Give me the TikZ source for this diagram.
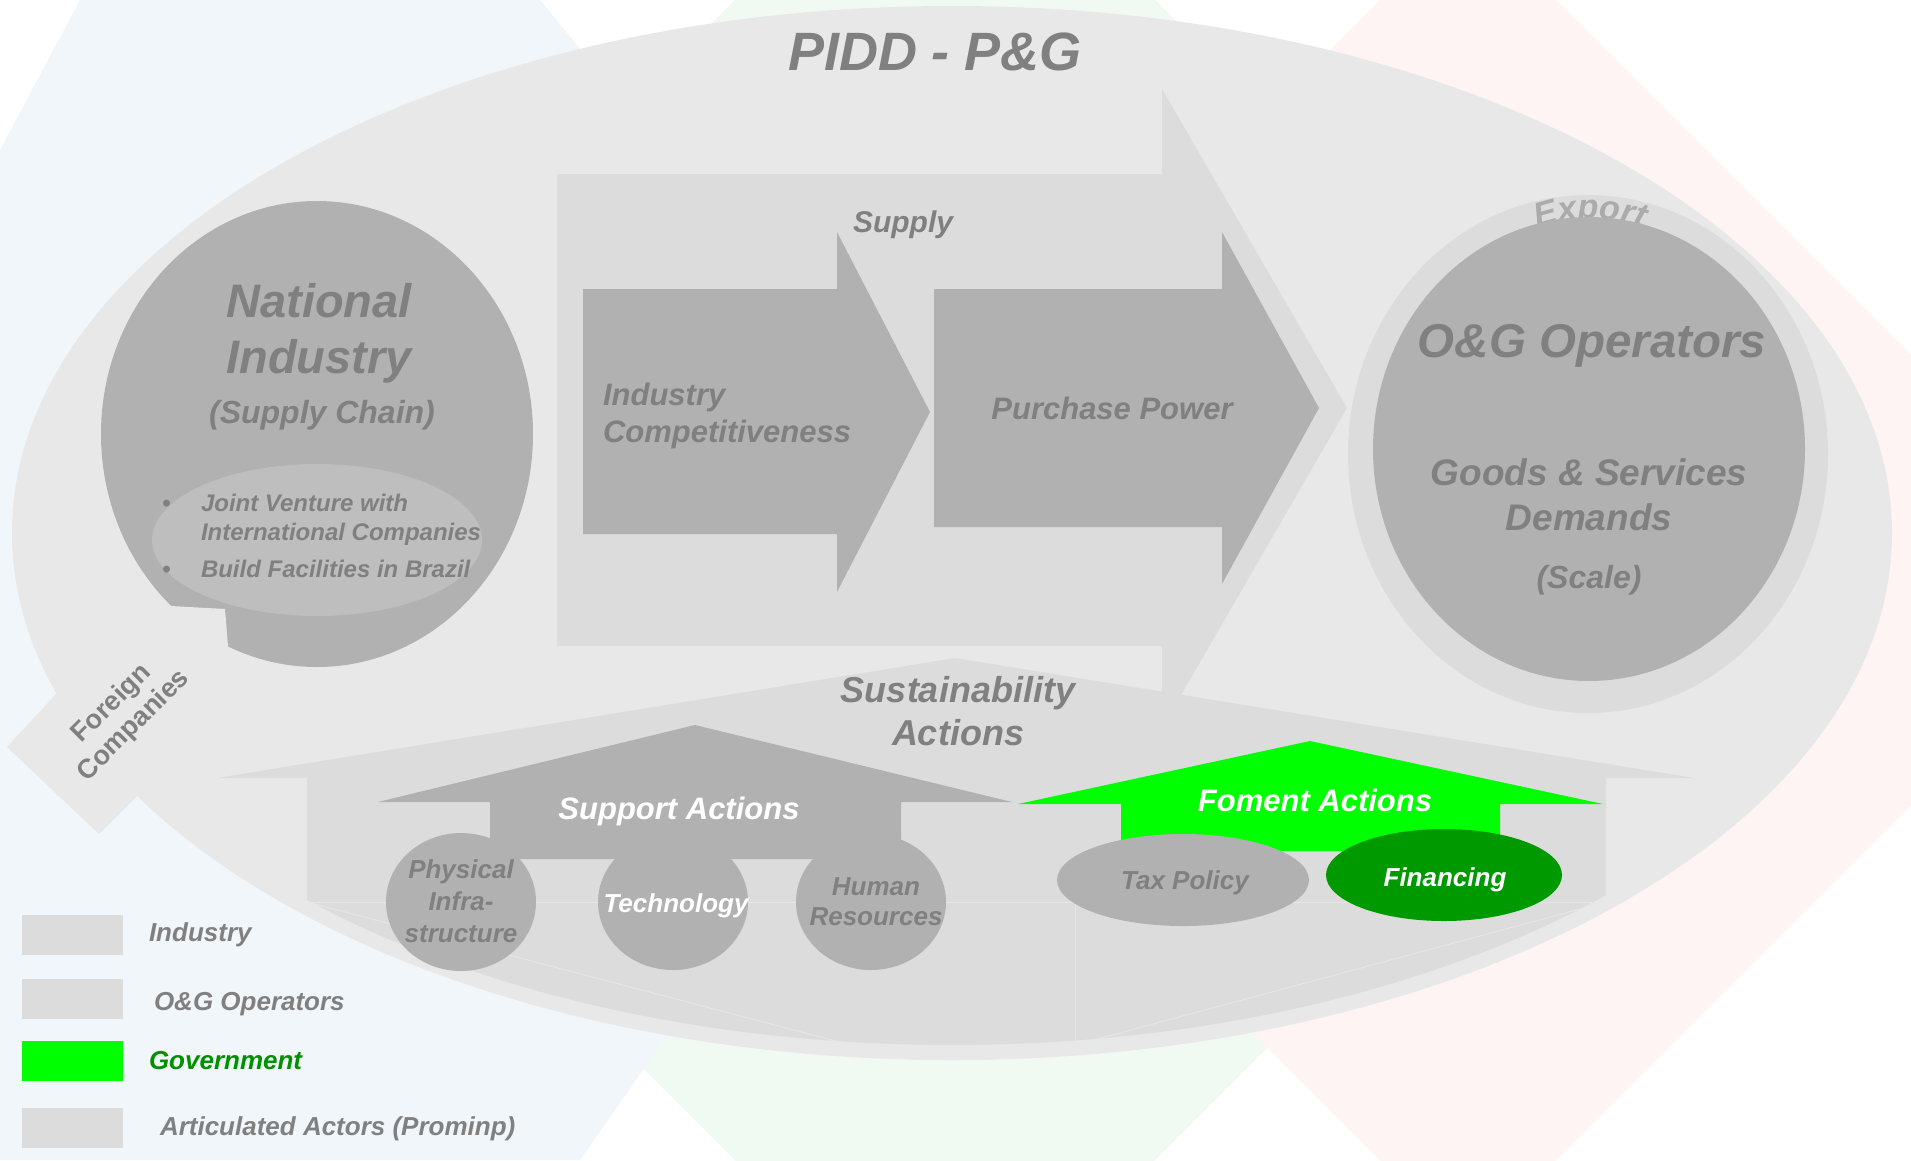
\documentclass[tikz,border=0pt]{standalone}
\usepackage{fontspec}
\setmainfont{Liberation Sans}
\usetikzlibrary{decorations.text}
\definecolor{bigE}{HTML}{E8E8E8}
\definecolor{lightG}{HTML}{DCDCDC}
\definecolor{midG}{HTML}{B1B1B1}
\definecolor{innerG}{HTML}{BEBEBE}
\definecolor{txtG}{HTML}{808080}
\definecolor{brightGreen}{HTML}{00FF00}
\definecolor{darkGreen}{HTML}{009900}
\definecolor{govGreen}{HTML}{009000}
\definecolor{expG}{HTML}{ABABAB}
\definecolor{tintBlue}{HTML}{F1F6FA}
\definecolor{tintGreen}{HTML}{F1F9F3}
\definecolor{tintPink}{HTML}{FEF4F4}
\newcommand\F[2]{\fontsize{#1}{#2}\selectfont\bfseries\itshape}
\newcommand\exportfont{\fontsize{34}{40}\selectfont\bfseries\itshape}
\begin{document}
\begin{tikzpicture}[x=1pt,y=-1pt,
  lbl/.style={inner sep=0pt, outer sep=0pt, text=txtG, anchor=base, font=\F{#1}{#1}},
  wlbl/.style={lbl=#1, text=white},
  llbl/.style={lbl=#1, anchor=base west},
  fclbl/.style={inner sep=0pt, outer sep=0pt, text=txtG, rotate=45, font=\fontsize{27}{32}\selectfont\bfseries},
  bevel/.style={white, opacity=.3, line width=1pt}]
\useasboundingbox (0,0) rectangle (1911,1160);
% background tints
\begin{scope}
\clip (0,0) rectangle (1911,1160);
\fill[white] (0,0) rectangle (1911,1160);
\fill[tintGreen] (945,-210) -- (1735,580) -- (945,1370) -- (155,580) -- cycle;
\fill[tintBlue] (80,0) -- (540,0) -- (1000,560) -- (580,1160) -- (0,1160) -- (0,150) -- cycle;
\fill[tintPink] (1468,-88) -- (2136,580) -- (1468,1248) -- (800,580) -- cycle;
\end{scope}
% foreign companies arrow and big ellipse
\fill[bigE] (57,693) -- (7,747) -- (99,834) -- (137,796) -- (200,700) -- cycle;
\fill[bigE] (952,533) ellipse [x radius=940, y radius=527];
% supply arrow
\fill[lightG] (557,174) -- (1162,174) -- (1162,89) -- (1347,408) -- (1162,728) -- (1162,646) -- (557,646) -- cycle;
% sustainability arrow
\begin{scope}
\clip (952,533) ellipse [x radius=925, y radius=512];
\fill[lightG] (217,778) -- (955,658) -- (1694,778) -- (1606,778) -- (1606,1100) -- (307,1100) -- (307,778) -- cycle;
\draw[bevel] (307,902) -- (851,1045);
\draw[bevel] (307,902) -- (1606,902);
\draw[bevel] (1075,902) -- (1075,1045);
\draw[bevel] (1606,902) -- (1075,1045);
\end{scope}
% national industry
\fill[midG] (317,434) ellipse [x radius=216, y radius=233];
\fill[bigE] (90,600) -- (171,606) -- (225,609) -- (228,646) -- (228,700) -- (90,700) -- cycle;
\fill[innerG] (317,540) ellipse [x radius=165, y radius=76];
\node[lbl=47] (nat1) at (319,317) {National};
\node[lbl=47] (nat2) at (319,373) {Industry};
\node[lbl=32] (nat3) at (322,423) {(Supply Chain)};
\node[llbl=24] (b1) at (162,511) {•};
\node[llbl=24] (jv1) at (201,511) {Joint Venture with};
\node[llbl=24] (jv2) at (201,540) {International Companies};
\node[llbl=24] (b2) at (162,577) {•};
\node[llbl=24] (bf) at (201,577) {Build Facilities in Brazil};
% inner arrows
\fill[midG] (583,289) -- (837,289) -- (837,232) -- (930,412) -- (837,592) -- (837,534) -- (583,534) -- cycle;
\fill[midG] (934,289) -- (1222,289) -- (1222,232) -- (1319,408) -- (1222,584) -- (1222,527) -- (934,527) -- cycle;
\node[llbl=31] (ic1) at (603,405) {Industry};
\node[llbl=31] (ic2) at (603,442) {Competitiveness};
\node[lbl=31] (pp) at (1112,419) {Purchase Power};
\node[lbl=30] (supply) at (903,232) {Supply};
% O&G operators
\fill[lightG] (1588,454) ellipse [x radius=240, y radius=259];
\path[decorate, decoration={text along path, text={|\exportfont|Export}, text align=center, text color=expG}]
  (1526,232) .. controls (1568,214) and (1612,214) .. (1654,232);
\fill[midG] (1589,449) ellipse [x radius=216, y radius=232];
\node[lbl=47.5] (og) at (1592,357) {O\&G Operators};
\node[lbl=37] (gs1) at (1589,485) {Goods \& Services};
\node[lbl=37] (gs2) at (1589,530) {Demands};
\node[lbl=32] (scale) at (1589,588) {(Scale)};
% sustainability text
\node[lbl=36] (sus1) at (958,702) {Sustainability};
\node[lbl=36] (sus2) at (958,745) {Actions};
% support actions
\fill[midG] (378,802) -- (695,725) -- (1012,802) -- (901,802) -- (901,859) -- (490,859) -- (490,802) -- cycle;
\fill[midG] (461,902) ellipse [x radius=75, y radius=69];
\fill[midG] (673,902) ellipse [x radius=75, y radius=68];
\fill[midG] (871,902) ellipse [x radius=75, y radius=68];
\node[wlbl=31] (sa) at (679,819) {Support Actions};
\node[lbl=26] (ph1) at (461,878) {Physical};
\node[lbl=26] (ph2) at (461,910) {Infra-};
\node[lbl=26] (ph3) at (461,942) {structure};
\node[wlbl=26] (tech) at (676,912) {Technology};
\node[lbl=26] (hr1) at (876,895) {Human};
\node[lbl=26] (hr2) at (876,925) {Resources};
% foment actions
\fill[brightGreen] (1018,804) -- (1310,741) -- (1603,804) -- (1500,804) -- (1500,851) -- (1121,851) -- (1121,804) -- cycle;
\fill[midG] (1183,880) ellipse [x radius=126, y radius=46];
\fill[darkGreen] (1444,875) ellipse [x radius=118, y radius=46];
\node[wlbl=31] (fa) at (1315,811) {Foment Actions};
\node[lbl=26] (tax) at (1185,889) {Tax Policy};
\node[wlbl=26] (fin) at (1445,886) {Financing};
% foreign companies
\node[fclbl] (foreign1) at (112,704) {Foreign};
\node[fclbl] (foreign2) at (134,726) {Companies};
% title
\node[lbl=54] (title) at (935,70) {PIDD - P\&G};
% legend
\fill[lightG] (22,915) rectangle (123,955);
\fill[lightG] (22,979) rectangle (123,1019);
\fill[brightGreen] (22,1041) rectangle (123,1081);
\fill[lightG] (22,1108) rectangle (123,1148);
\node[llbl=26] (lg1) at (149,941) {Industry};
\node[llbl=26] (lg2) at (154,1010) {O\&G Operators};
\node[llbl=26, text=govGreen] (lg3) at (149,1069) {Government};
\node[llbl=26] (lg4) at (160,1135) {Articulated Actors (Prominp)};
\end{tikzpicture}
\end{document}
